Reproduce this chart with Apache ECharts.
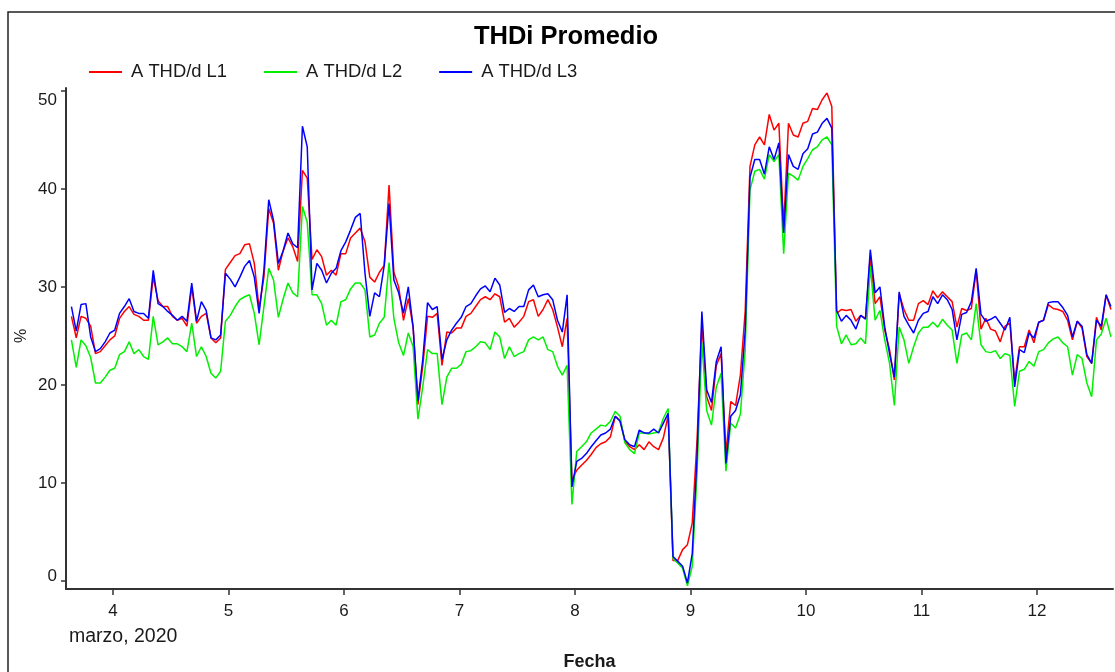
<!DOCTYPE html>
<html>
<head>
<meta charset="utf-8">
<title>THDi Promedio</title>
<script src="https://cdn.jsdelivr.net/npm/echarts@6/dist/echarts.min.js"></script>
<style>
  html, body { margin: 0; padding: 0; background: #fff; }
  #chart { width: 1115px; height: 672px; }
</style>
</head>
<body>
<div id="chart"></div>
<script>
// Hourly averages, day-of-month axis (marzo 2020), first sample at day 3.64
const seriesNames = ['A THD/d L1', 'A THD/d L2', 'A THD/d L3'];
const firstDay = 3.64;
const samplesPerDay = 24;
const dayTicks = [4, 5, 6, 7, 8, 9, 10, 11, 12];
const pctTicks = [0, 10, 20, 30, 40, 50];

const thdL1 = [27.0, 24.8, 27.0, 26.8, 26.0, 23.2, 23.4, 24.0, 24.6, 25.0, 26.8, 27.5, 28.0, 27.2, 27.0, 26.6, 26.6, 31.0, 28.6, 28.0, 28.0, 27.0, 26.6, 26.8, 26.0, 30.0, 26.3, 27.0, 27.3, 24.8, 24.3, 24.8, 31.8, 32.5, 33.2,
  33.4, 34.3, 34.4, 32.4, 27.8, 31.0, 38.0, 36.5, 31.7, 33.7, 35.0, 34.1, 32.6, 41.9, 41.1, 32.8, 33.8, 33.1, 31.2, 31.7, 31.2, 33.4, 33.4, 35.0, 35.5, 36.0, 34.6, 31.0, 30.5, 31.5, 32.2, 40.4, 31.5, 30.0, 26.6,
  28.8, 25.9, 18.0, 21.9, 27.0, 26.9, 27.3, 22.0, 25.4, 25.3, 25.8, 25.8, 27.0, 27.3, 28.0, 28.7, 29.0, 28.7, 29.3, 29.0, 26.4, 26.8, 25.9, 26.4, 27.0, 28.5, 28.7, 27.0, 27.7, 28.7, 27.7, 25.9, 23.9, 26.8, 10.3,
  11.3, 11.8, 12.3, 12.9, 13.6, 14.0, 14.2, 14.7, 16.8, 16.4, 14.3, 13.7, 13.4, 13.9, 13.4, 14.2, 13.7, 13.4, 14.6, 16.9, 2.1, 2.1, 3.2, 3.7, 5.9,
  14.4, 26.3, 18.8, 17.4, 22.0, 23.2, 13.0, 18.3, 17.9, 21.0, 27.5, 42.3, 44.5, 45.3, 44.5, 47.6, 46.0, 46.7, 36.2, 46.7, 45.5, 45.3, 46.7, 46.9, 48.2, 48.1, 49.1, 49.8, 48.4,
  27.3, 27.7, 27.6, 27.7, 26.5, 27.1, 26.8, 33.1, 28.3, 29.0, 25.6, 23.6, 20.5, 29.3, 27.7, 26.6, 26.6, 28.3, 28.6, 28.2, 29.6, 28.9, 29.5, 29.0, 28.5, 25.9, 27.8, 27.6,
  27.8, 31.7, 25.7, 26.8, 25.7, 25.5, 24.4, 26.0, 26.3, 20.4, 23.9, 23.9, 25.6, 24.3, 26.4, 26.6, 28.2, 27.8, 27.7, 27.5, 26.6, 24.6, 26.5, 25.8, 22.9, 22.2, 26.9, 25.6, 29.2, 27.7];

const thdL2 = [24.6, 21.8, 24.6, 24.0, 22.8, 20.2, 20.2, 20.8, 21.5, 21.7, 23.1, 23.4, 24.4, 23.2, 23.6, 22.9, 22.6, 27.0, 24.1, 24.4, 24.8, 24.2, 24.2, 23.9, 23.4, 26.3, 22.9, 23.9, 22.9, 21.2, 20.7, 21.4, 26.5, 27.1, 28.0,
  28.7, 29.0, 29.2, 27.3, 24.1, 28.0, 31.9, 30.7, 26.9, 28.8, 30.4, 29.4, 29.0, 38.2, 36.6, 29.2, 29.2, 28.3, 26.1, 26.6, 26.1, 28.5, 28.7, 29.8, 30.4, 30.4, 29.7, 24.9, 25.1, 26.3, 26.9, 32.5, 26.8, 24.3, 23.0,
  25.3, 23.9, 16.5, 19.8, 23.6, 23.2, 23.2, 18.0, 20.8, 21.7, 21.7, 22.1, 23.4, 23.5, 23.9, 24.4, 24.3, 23.6, 25.4, 24.9, 22.7, 23.9, 22.9, 23.2, 23.4, 24.6, 24.9, 24.6, 24.9, 23.6, 23.4, 21.9, 21.0, 22.0, 7.8,
  13.2, 13.7, 14.2, 15.1, 15.5, 15.9, 15.8, 16.3, 17.3, 16.8, 14.1, 13.4, 13.0, 15.1, 15.1, 15.0, 15.1, 15.2, 16.6, 17.6, 2.3, 1.8, 1.3, -0.5, 1.5,
  11.0, 24.3, 17.4, 15.9, 19.8, 21.2, 11.2, 16.1, 15.6, 17.0, 23.5, 39.9, 41.8, 42.0, 41.0, 43.5, 42.8, 43.5, 33.4, 41.6, 41.3, 40.9, 42.3, 43.1, 44.0, 44.3, 45.0, 45.3, 44.5,
  26.0, 24.2, 25.1, 24.1, 24.2, 24.8, 24.2, 32.1, 26.6, 27.6, 24.6, 22.2, 17.9, 25.9, 24.6, 22.2, 23.9, 25.3, 25.9, 25.9, 26.4, 25.9, 26.7, 26.1, 25.6, 22.2, 25.1, 25.3,
  24.6, 28.3, 24.1, 23.4, 23.3, 23.5, 22.7, 23.2, 23.0, 17.8, 21.4, 21.6, 22.4, 21.9, 23.4, 23.6, 24.3, 24.7, 24.9, 24.3, 23.9, 21.0, 23.1, 22.7, 20.2, 18.8, 24.6, 25.2, 26.8, 24.9];

const thdL3 = [28.0, 25.5, 28.2, 28.3, 24.9, 23.4, 23.7, 24.4, 25.3, 25.6, 27.3, 28.0, 28.8, 27.5, 27.3, 27.3, 26.8, 31.7, 28.3, 28.0, 27.5, 27.1, 26.6, 27.0, 26.5, 30.4, 26.5, 28.5, 27.6, 24.8, 24.6, 25.1, 31.4, 30.8, 30.0,
  31.0, 32.1, 32.7, 31.0, 27.3, 31.7, 38.9, 36.8, 32.4, 33.7, 35.5, 34.4, 34.0, 46.4, 44.3, 29.7, 32.4, 31.7, 30.4, 31.4, 31.9, 33.7, 34.6, 35.8, 37.1, 37.5, 31.4, 27.0, 29.4, 29.0, 32.2, 38.5, 30.7, 29.4, 27.3,
  30.0, 25.9, 18.4, 22.6, 28.4, 27.7, 28.0, 22.6, 24.6, 25.6, 26.3, 26.9, 28.0, 28.3, 29.1, 29.8, 30.1, 29.5, 30.9, 30.2, 27.4, 27.8, 27.5, 28.0, 28.0, 29.7, 30.2, 29.0, 29.2, 29.3, 28.7, 26.6, 25.4, 29.2, 9.6,
  12.2, 12.5, 13.0, 13.7, 14.3, 14.9, 15.1, 15.5, 16.8, 16.3, 14.4, 13.9, 13.7, 15.4, 15.1, 15.1, 15.5, 15.1, 16.1, 17.1, 2.5, 2.0, 1.5, -0.2, 2.8,
  12.7, 27.5, 19.5, 18.2, 22.4, 23.9, 12.0, 16.8, 17.4, 19.0, 25.5, 41.2, 43.0, 43.0, 41.5, 44.3, 43.0, 44.7, 35.5, 43.5, 42.3, 42.0, 43.6, 44.1, 45.6, 45.8, 46.7, 47.2, 46.2,
  27.6, 26.5, 27.1, 26.6, 25.7, 27.1, 26.7, 33.8, 29.4, 30.0, 25.9, 23.2, 20.8, 29.5, 27.0, 26.1, 25.3, 26.6, 27.3, 27.5, 29.0, 28.3, 29.2, 28.7, 27.7, 24.6, 27.2, 27.4,
  28.5, 31.9, 27.2, 26.5, 26.7, 27.0, 26.3, 25.6, 26.9, 19.8, 23.6, 23.3, 25.3, 24.8, 26.4, 26.6, 28.4, 28.5, 28.5, 27.9, 27.1, 24.9, 26.5, 26.0, 23.1, 22.2, 26.6, 26.0, 29.2, 28.0];

const seriesColors = ['#ff0000', '#00f000', '#0000ff'];
const FONT = '"Liberation Sans", Arial, sans-serif';
const INK = '#1a1a1a';

// pair each hourly value with its time in days
function toPoints(values) {
  return values.map((v, i) => [firstDay + i / samplesPerDay, v]);
}

const chart = echarts.init(document.getElementById('chart'), null, { renderer: 'canvas' });

chart.setOption({
  backgroundColor: '#ffffff',
  animation: false,
  title: {
    text: 'THDi Promedio',
    left: 561,
    top: 19,
    textAlign: 'center',
    textStyle: { fontFamily: FONT, fontSize: 25.5, fontWeight: 'bold', color: '#000' }
  },
  legend: {
    left: 84,
    top: 58,
    icon: 'rect',
    itemWidth: 33,
    itemHeight: 2,
    itemGap: 37,
    textStyle: { fontFamily: FONT, fontSize: 18.4, color: INK, padding: [0, 0, 0, 4] },
    data: seriesNames
  },
  grid: { left: 66, right: 2, top: 88, bottom: 83, containLabel: false, outerBoundsMode: 'none' },
  xAxis: {
    type: 'value',
    min: 3.593,
    max: 12.658,
    name: 'Fecha',
    nameLocation: 'middle',
    nameGap: 64,
    nameTextStyle: { fontFamily: FONT, fontSize: 18, fontWeight: 'bold', color: INK },
    axisLine: { show: true, onZero: false, lineStyle: { color: '#333', width: 2 } },
    axisTick: { show: true, length: 6, lineStyle: { color: '#333', width: 1.5 }, customValues: dayTicks },
    axisLabel: { customValues: dayTicks, margin: 14, fontFamily: FONT, fontSize: 17, color: INK },
    splitLine: { show: false }
  },
  yAxis: {
    type: 'value',
    min: -0.82,
    max: 50.3,
    axisLine: { show: true, lineStyle: { color: '#333', width: 2 } },
    axisTick: { show: true, length: 5, lineStyle: { color: '#333', width: 1.5 }, customValues: pctTicks },
    axisLabel: {
      customValues: pctTicks,
      margin: 9,
      fontFamily: FONT,
      fontSize: 17,
      color: INK,
      formatter: function (v) {
        if (v === 0) return '{lo|0}';
        if (v === 50) return '{hi|50}';
        return String(v);
      },
      rich: {
        lo: { fontFamily: FONT, fontSize: 17, color: INK, padding: [0, 0, 10, 0] },
        hi: { fontFamily: FONT, fontSize: 17, color: INK, padding: [18, 0, 0, 0] }
      }
    },
    splitLine: { show: false }
  },
  graphic: [
    {
      type: 'rect',
      z: -10,
      shape: { x: 8, y: 12, width: 1200, height: 700 },
      style: { fill: 'none', stroke: '#222', lineWidth: 1.5 }
    },
    {
      type: 'text',
      left: 69,
      top: 627,
      style: { text: 'marzo, 2020', font: '19.5px "Liberation Sans", Arial, sans-serif', fill: INK }
    },
    {
      // y-axis title, rotated to read bottom-to-top
      type: 'text',
      x: 22,
      y: 336,
      rotation: Math.PI / 2,
      style: {
        text: '%',
        font: '16px "Liberation Sans", Arial, sans-serif',
        fill: INK,
        align: 'center',
        verticalAlign: 'middle'
      }
    }
  ],
  series: [thdL1, thdL2, thdL3].map((vals, k) => ({
    name: seriesNames[k],
    type: 'line',
    data: toPoints(vals),
    symbol: 'none',
    showSymbol: false,
    clip: false,
    lineStyle: { color: seriesColors[k], width: 1.5 },
    itemStyle: { color: seriesColors[k] },
    z: 2 + k
  }))
});
</script>
</body>
</html>
